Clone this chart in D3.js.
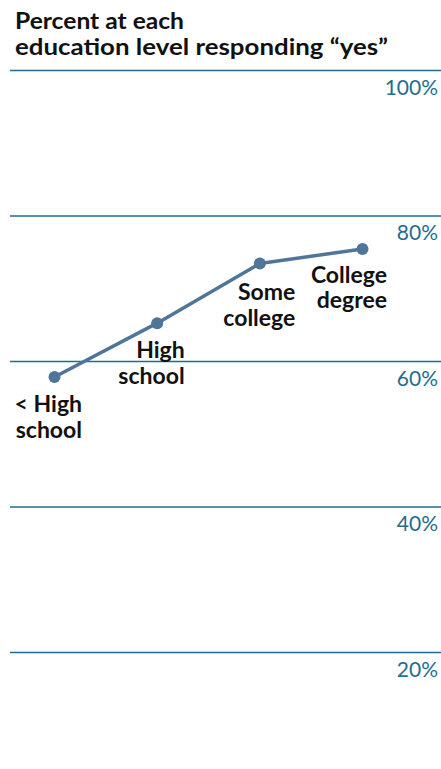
<!DOCTYPE html>
<html>
<head>
<meta charset="utf-8">
<script src="https://cdn.jsdelivr.net/npm/d3@7/dist/d3.min.js"></script>
<style>
  html, body { margin: 0; padding: 0; background: #ffffff; }
  svg { display: block; }
  text { font-family: Lato, "Open Sans", sans-serif; }
</style>
</head>
<body>
<svg id="chart" width="441" height="769"></svg>
<script>
// ---- data ----
const categories = [["< High", "school"], ["High", "school"], ["Some", "college"], ["College", "degree"]];
const values = [57.8, 65.2, 73.4, 75.4];
const tickValues = [20, 40, 60, 80, 100];
const tickLabels = ["20%", "40%", "60%", "80%", "100%"];
const titleLines = ["Percent at each", "education level responding \u201cyes\u201d"];

// ---- layout ----
const W = 441, H = 769;
const svg = d3.select("#chart");
const gridColor = "#1f6d8d";
const lineColor = "#4f7598";

const y = d3.scaleLinear().domain([0, 100]).range([797.5, 70]);
const x = d3.scalePoint().domain(d3.range(categories.length)).range([54.5, 362.5]);
// label anchor (right edge) offsets relative to point
const labelDx = [27.5, 27.5, 35.5, 24.5];
const labelDy = [35, 35, 36.5, 34];

// title (single text element, two lines)
const titleWidths = [169, 373];
const tt = svg.append("text")
  .attr("class", "title")
  .attr("x", 15)
  .attr("y", 29)
  .attr("font-size", 22.5)
  .attr("font-weight", 700)
  .attr("fill", "#111");
tt.selectAll("tspan").data(titleLines).join("tspan")
  .attr("x", 15)
  .attr("dy", (d, i) => i === 0 ? 0 : 26)
  .attr("textLength", (d, i) => titleWidths[i])
  .attr("lengthAdjust", "spacingAndGlyphs")
  .text(d => d);

// grid via axis
const axis = d3.axisRight(y)
  .tickValues(tickValues)
  .tickSize(W - 10)
  .tickFormat((d, i) => tickLabels[i]);
const g = svg.append("g").attr("transform", "translate(10,0)").call(axis);
g.select(".domain").remove();
g.selectAll(".tick line").attr("stroke", gridColor).attr("stroke-width", 1.5);
g.selectAll(".tick text")
  .attr("x", 428)
  .attr("dy", 0)
  .attr("y", 24)
  .attr("text-anchor", "end")
  .attr("font-size", 21)
  .attr("fill", gridColor)
  .style("font-family", "Lato, 'Open Sans', sans-serif");

// line
const line = d3.line().x((d, i) => x(i)).y(d => y(d));
svg.append("path")
  .datum(values)
  .attr("d", line)
  .attr("fill", "none")
  .attr("stroke", lineColor)
  .attr("stroke-width", 3.5)
  .attr("stroke-linejoin", "round");

svg.selectAll("circle.pt").data(values).join("circle")
  .attr("class", "pt")
  .attr("cx", (d, i) => x(i))
  .attr("cy", d => y(d))
  .attr("r", 6)
  .attr("fill", lineColor);

// category labels
const lg = svg.selectAll("text.cat").data(categories).join("text")
  .attr("class", "cat")
  .attr("text-anchor", "end")
  .attr("font-size", 23)
  .attr("font-weight", 700)
  .attr("fill", "#111")
  .attr("x", (d, i) => x(i) + labelDx[i])
  .attr("y", (d, i) => y(values[i]) + labelDy[i]);
lg.selectAll("tspan").data(d => d).join("tspan")
  .attr("x", function() { return d3.select(this.parentNode).attr("x"); })
  .attr("dy", (d, j) => j === 0 ? 0 : 25.5)
  .text(d => d);
</script>
</body>
</html>
